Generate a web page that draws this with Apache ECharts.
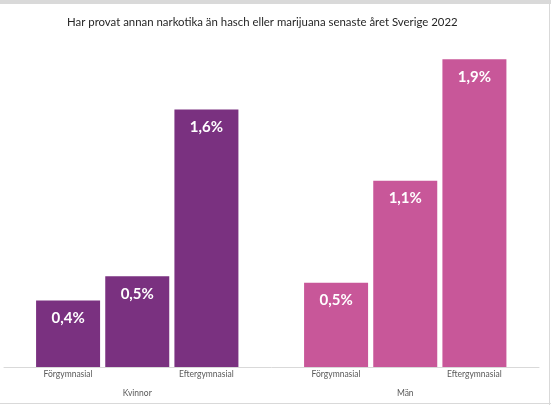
<!DOCTYPE html>
<html>
<head>
<meta charset="utf-8">
<script src="https://cdn.jsdelivr.net/npm/echarts@6/dist/echarts.min.js"></script>
<style>
html,body{margin:0;padding:0;background:#fff;}
#wrap{position:relative;width:551px;height:405px;overflow:hidden;}
#chart{position:absolute;left:0;top:0;width:551px;height:405px;}
#topband{position:absolute;left:0;top:0;width:551px;height:4px;background:#d9d9d9;}
#rline{position:absolute;left:549px;top:0;width:1px;height:405px;background:#d9d9d9;}
#bline{position:absolute;left:0;top:403px;width:551px;height:1px;background:#d9d9d9;}
</style>
</head>
<body>
<div id="wrap">
<div id="chart"></div>
<div id="topband"></div>
<div id="rline"></div>
<div id="bline"></div>
</div>
<script>
const title = 'Har provat annan narkotika än hasch eller marijuana senaste året Sverige 2022';
const categories = ['Förgymnasial', 'Gymnasial', 'Eftergymnasial'];
const groups = ['Kvinnor', 'Män'];
const kvinnorValues = [0.41, 0.56, 1.59];
const kvinnorLabels = ['0,4%', '0,5%', '1,6%'];
const manValues = [0.52, 1.15, 1.9];
const manLabels = ['0,5%', '1,1%', '1,9%'];

const FONT = 'Lato';
const chart = echarts.init(document.getElementById('chart'), null, {renderer: 'canvas'});

function labelFor(arr) {
  return {
    show: true,
    position: 'insideTop',
    distance: 10,
    color: '#ffffff',
    fontFamily: FONT,
    fontWeight: 'bold',
    fontSize: 15,
    formatter: p => arr[p.dataIndex]
  };
}

const catAxisBase = {
  type: 'category',
  axisLine: {show: false},
  axisTick: {show: false},
  axisLabel: {color: '#595959', fontFamily: FONT, fontSize: 8.5, margin: 3}
};
const groupAxisBase = {
  type: 'category',
  position: 'bottom',
  offset: 19,
  axisLine: {show: false},
  axisTick: {show: false},
  axisLabel: {color: '#595959', fontFamily: FONT, fontSize: 8.5, margin: 3}
};
const yBase = {type: 'value', min: 0, max: 2, show: false};

chart.setOption({
  animation: false,
  title: {
    text: title,
    left: 62,
    top: 12,
    textStyle: {fontFamily: FONT, fontSize: 11.4, fontWeight: 'normal', color: '#262626'}
  },
  grid: [
    {left: 4, right: 12, top: 43, bottom: 38},
    {left: 33.5, right: 310, top: 43, bottom: 38},
    {left: 301.5, right: 42, top: 43, bottom: 38}
  ],
  xAxis: [
    {gridIndex: 0, type: 'category', data: [''], axisLine: {show: true, lineStyle: {color: '#d9d9d9', width: 1}}, axisTick: {show: false}, axisLabel: {show: false}},
    Object.assign({gridIndex: 1, data: categories}, catAxisBase),
    Object.assign({gridIndex: 2, data: categories}, catAxisBase),
    Object.assign({gridIndex: 1, data: [groups[0]]}, groupAxisBase),
    Object.assign({gridIndex: 2, data: [groups[1]]}, groupAxisBase)
  ],
  yAxis: [
    Object.assign({gridIndex: 0}, yBase),
    Object.assign({gridIndex: 1}, yBase),
    Object.assign({gridIndex: 2}, yBase)
  ],
  series: [
    {
      type: 'bar', xAxisIndex: 1, yAxisIndex: 1,
      data: kvinnorValues, barWidth: 64,
      itemStyle: {color: '#7a3180'},
      label: labelFor(kvinnorLabels)
    },
    {
      type: 'bar', xAxisIndex: 2, yAxisIndex: 2,
      data: manValues, barWidth: 64,
      itemStyle: {color: '#c85799'},
      label: labelFor(manLabels)
    }
  ]
});
</script>
</body>
</html>
